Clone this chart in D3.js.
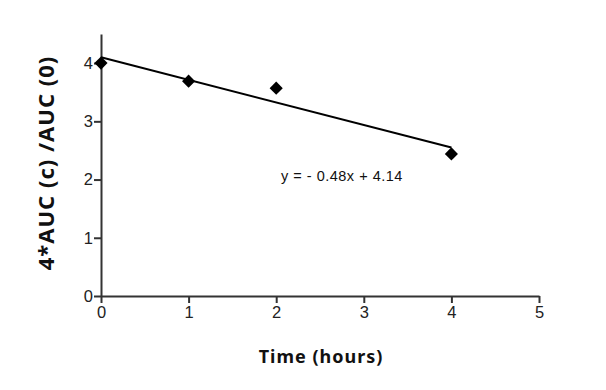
<!DOCTYPE html>
<html>
<head>
<meta charset="utf-8">
<script src="https://cdn.jsdelivr.net/npm/d3@7"></script>
<style>
  body { margin: 0; background: #fff; }
</style>
</head>
<body>
<div id="chart"></div>
<script>
// measured points
const hours = [0, 1, 2, 4];
const ratio = [4.0, 3.69, 3.57, 2.44];
// trend line as drawn
const fitX = [0, 4];
const fitY = [4.1, 2.55];
const xTicks = [0, 1, 2, 3, 4, 5];
const yTicks = [0, 1, 2, 3, 4];
const equation = "y = - 0.48x + 4.14";

const width = 606, height = 390;
const svg = d3.select("#chart").append("svg")
    .attr("width", width)
    .attr("height", height);

let x = d3.scaleLinear().domain([0, 5]).range([101, 539]);
let y = d3.scaleLinear().domain([0, 4.5]).range([296, 34]);

let axisColor = "#333";

let xAxis = svg.append("g")
    .attr("transform", "translate(0," + y(0) + ")")
    .call(d3.axisBottom(x).tickValues(xTicks).tickFormat(d3.format("d")).tickSize(7).tickSizeOuter(0));
let yAxis = svg.append("g")
    .attr("transform", "translate(" + x(0) + ",0)")
    .call(d3.axisLeft(y).tickValues(yTicks).tickFormat(d3.format("d")).tickSize(7).tickSizeOuter(0));

[xAxis, yAxis].forEach(a => {
    a.select(".domain").attr("stroke", axisColor).attr("stroke-width", 2);
    a.selectAll(".tick line").attr("stroke", axisColor).attr("stroke-width", 2);
    a.selectAll(".tick text")
        .attr("font-family", "Liberation Sans, Arial, sans-serif")
        .attr("font-size", 16.5)
        .attr("fill", "#222");
});
xAxis.selectAll(".tick text").attr("y", 9).attr("dy", "0.8em");
yAxis.selectAll(".tick text").attr("x", -8);

// trend line
svg.append("line")
    .attr("x1", x(fitX[0])).attr("y1", y(fitY[0]))
    .attr("x2", x(fitX[1])).attr("y2", y(fitY[1]))
    .attr("stroke", "#000")
    .attr("stroke-width", 2);

// diamonds
let diamond = d3.symbol().type(d3.symbolDiamond2).size(110);
svg.append("g")
   .selectAll("path")
   .data(hours.map((h, i) => ({h: h, v: ratio[i]})))
   .join("path")
    .attr("d", diamond)
    .attr("transform", d => "translate(" + x(d.h) + "," + y(d.v) + ")")
    .attr("fill", "#000");

svg.append("text")
    .attr("x", 281)
    .attr("y", 181)
    .attr("font-family", "Liberation Sans, Arial, sans-serif")
    .attr("font-size", 14.5)
    .attr("letter-spacing", 0.5)
    .attr("fill", "#111")
    .text(equation);

// axis titles
svg.append("text")
    .attr("x", 321)
    .attr("y", 363)
    .attr("text-anchor", "middle")
    .attr("font-family", "Noto Sans, sans-serif")
    .attr("font-weight", "bold")
    .attr("font-size", 18)
    .attr("letter-spacing", 1)
    .attr("fill", "#111")
    .text("Time (hours)");

svg.append("text")
    .attr("transform", "translate(54,163) rotate(-90)")
    .attr("text-anchor", "middle")
    .attr("font-family", "Noto Sans, sans-serif")
    .attr("font-weight", "bold")
    .attr("font-size", 22)
    .attr("letter-spacing", 1)
    .attr("fill", "#111")
    .text("4*AUC (c) /AUC (0)");
</script>
</body>
</html>
